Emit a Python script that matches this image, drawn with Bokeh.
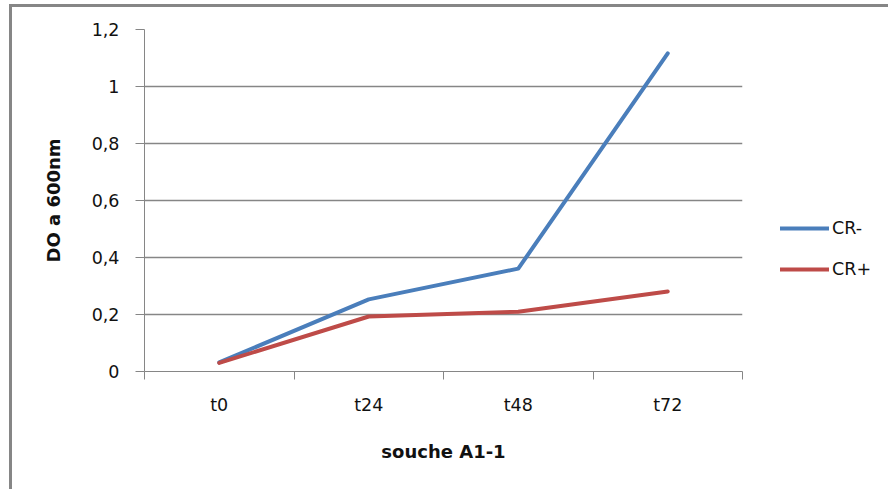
from bokeh.plotting import figure
from bokeh.models import Range1d, FixedTicker, Legend, LegendItem
from bokeh.embed import file_html
from bokeh.resources import INLINE

categories = ["t0", "t24", "t48", "t72"]
cr_minus = [0.032, 0.253, 0.361, 1.116]
cr_plus = [0.030, 0.193, 0.210, 0.281]
y_ticks = [0, 0.2, 0.4, 0.6, 0.8, 1.0, 1.2]
y_tick_labels = ["0", "0,2", "0,4", "0,6", "0,8", "1", "1,2"]

FONT = "DejaVu Sans"
GRAY = "#868686"
BLUE = "#4A7EBB"
RED = "#BE4B48"
TXT = "#111111"

xs = [i + 0.5 for i in range(len(categories))]

p = figure(frame_width=598, frame_height=342, output_backend="svg", toolbar_location=None,
           x_range=Range1d(0, len(categories)), y_range=Range1d(0, 1.2),
           min_border_left=132, min_border_right=146, min_border_top=22, min_border_bottom=118)
p.styles = {"margin-left": "9px", "margin-top": "4px",
            "border-left": f"3px solid {GRAY}", "border-top": f"3px solid {GRAY}"}
p.outline_line_color = None
p.background_fill_color = "white"
p.border_fill_color = "white"

# x axis: boundary ticks (minor) and centered category labels (major)
xa = p.xaxis[0]
xa.ticker = FixedTicker(ticks=xs, minor_ticks=list(range(len(categories) + 1)))
xa.major_label_overrides = {x: c for x, c in zip(xs, categories)}
xa.major_tick_line_color = None
xa.major_tick_out = 0
xa.major_tick_in = 0
xa.minor_tick_line_color = GRAY
xa.minor_tick_out = 8
xa.minor_tick_in = 0
xa.axis_line_color = GRAY
xa.major_label_standoff = 15
xa.major_label_text_font = FONT
xa.major_label_text_font_size = "17.5px"
xa.major_label_text_color = TXT
xa.axis_label = "souche A1-1"
xa.axis_label_text_font = FONT
xa.axis_label_text_font_size = "18px"
xa.axis_label_text_font_style = "bold"
xa.axis_label_text_color = TXT
xa.axis_label_standoff = 23

ya = p.yaxis[0]
ya.ticker = FixedTicker(ticks=y_ticks, minor_ticks=[])
ya.major_label_overrides = {t: l for t, l in zip(y_ticks, y_tick_labels)}
ya.major_tick_line_color = GRAY
ya.major_tick_out = 9
ya.major_tick_in = 0
ya.axis_line_color = GRAY
ya.major_label_standoff = 16
ya.major_label_text_font = FONT
ya.major_label_text_font_size = "17.5px"
ya.major_label_text_color = TXT
ya.axis_label = "DO a 600nm"
ya.axis_label_text_font = FONT
ya.axis_label_text_font_size = "18px"
ya.axis_label_text_font_style = "bold"
ya.axis_label_text_color = TXT
ya.axis_label_standoff = 25

p.xgrid.grid_line_color = None
p.ygrid.ticker = FixedTicker(ticks=y_ticks)
p.ygrid.grid_line_color = GRAY
p.ygrid.grid_line_width = 1.5

r1 = p.line(xs, cr_minus, line_color=BLUE, line_width=4, line_join="round", line_cap="round")
r2 = p.line(xs, cr_plus, line_color=RED, line_width=4, line_join="round", line_cap="round")

legend = Legend(items=[LegendItem(label="CR-", renderers=[r1]),
                       LegendItem(label="CR+", renderers=[r2])],
                location=(38, 92), orientation="vertical",
                glyph_width=49, glyph_height=20, label_height=20, spacing=21,
                label_standoff=3, padding=0, margin=0,
                border_line_color=None, background_fill_alpha=0,
                label_text_font=FONT, label_text_font_size="17.5px", label_text_color=TXT)
p.add_layout(legend, "right")

open("out.html", "w").write(file_html(p, INLINE))
